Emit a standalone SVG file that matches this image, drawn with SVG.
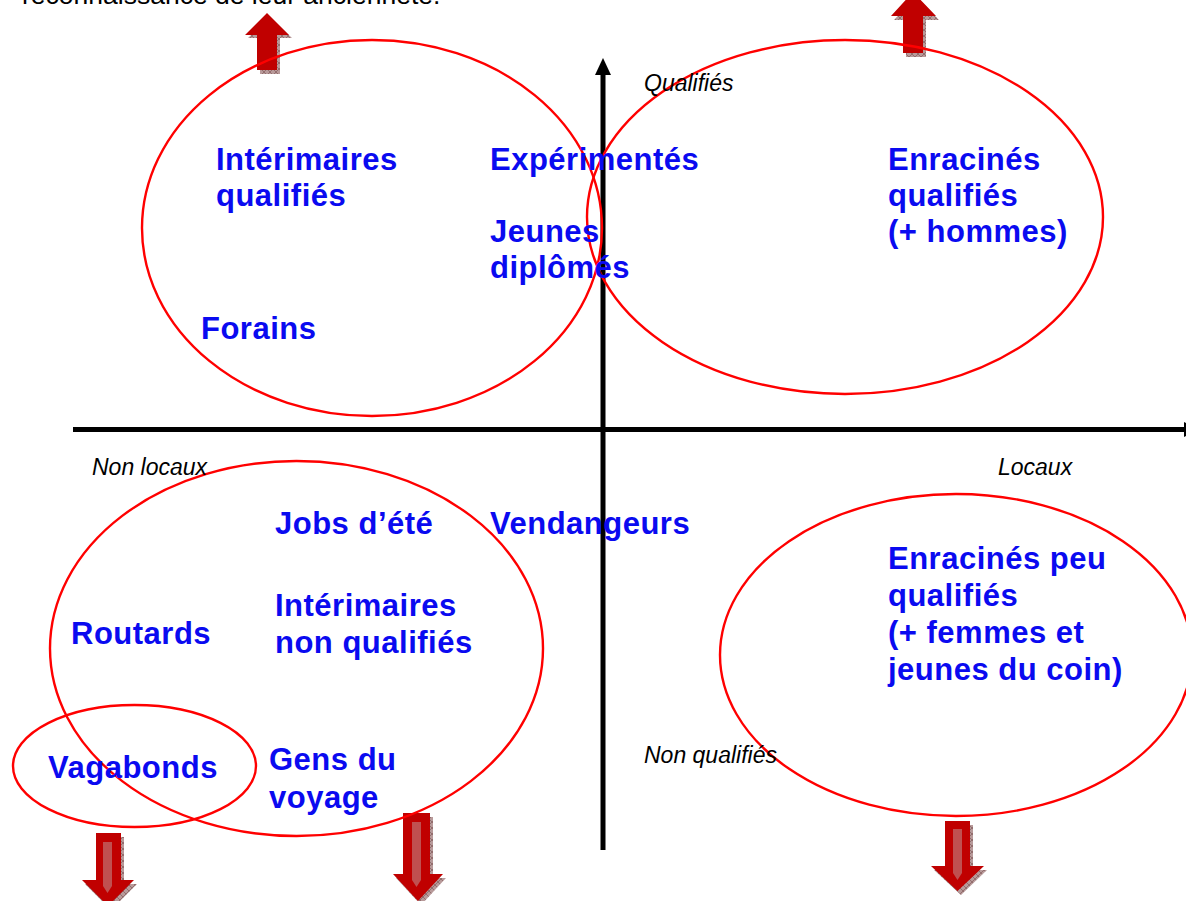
<svg xmlns="http://www.w3.org/2000/svg" width="1186" height="901" viewBox="0 0 1186 901">
<style>
.lbl{font-family:"Liberation Sans",Arial,sans-serif;font-weight:bold;font-size:31px;letter-spacing:0.5px;fill:#0a0af0}
.ax{font-family:"Liberation Sans",Arial,sans-serif;font-style:italic;font-size:23px;fill:#000}
.top{font-family:"Liberation Sans",Arial,sans-serif;font-size:26.5px;fill:#000}
.ell{fill:none;stroke:#ff0000;stroke-width:2.4}
.arr{fill:#c00000}
.sh{fill:url(#hatch)}
.stripe{fill:#c05050}
</style>
<defs>
<pattern id="hatch" width="6" height="6" patternUnits="userSpaceOnUse">
<rect width="6" height="6" fill="#b89a9a"/>
<path d="M0 6L6 0M0 0L6 6" stroke="#7a5050" stroke-width="0.6"/>
</pattern>
</defs>
<rect width="1186" height="901" fill="#fff"/>
<text class="top" x="22" y="4">reconnaissance de leur ancienneté.</text>

<g id="connectors">
<line x1="603" y1="850" x2="603" y2="74" stroke="#000" stroke-width="5"/>
<polygon points="603,58 611,75 595,75" fill="#000"/>
<line x1="73" y1="429.5" x2="1184" y2="429.5" stroke="#000" stroke-width="5"/>
<polygon points="1184,422 1200,429.5 1184,437" fill="#000"/>
</g>

<g id="arrows">
<g id="arrow-up-left">
<polygon class="sh" points="270,17 292,38 280,38 280,74 260,74 260,38 248,38"/>
<polygon class="arr" points="267,13 289,35 277,35 277,70 257,70 257,35 245,35"/>
</g>
<g id="arrow-up-right">
<polygon class="sh" points="916,-4 939,20 926,20 926,57 906,57 906,20 894,20"/>
<polygon class="arr" points="913,-8 936,16 923,16 923,53 903,53 903,16 891,16"/>
</g>
<g id="arrow-down-1">
<polygon class="sh" points="99,837 124,837 124,884 137,884 111,910 85,884 99,884"/>
<polygon class="arr" points="96,833 121,833 121,880 134,880 108,906 82,880 96,880"/>
<polygon class="stripe" points="103,842 112,842 112,886 107.5,893 103,886"/>
</g>
<g id="arrow-down-2">
<polygon class="sh" points="406,817 433,817 433,878 446,878 421,905 396,878 406,878"/>
<polygon class="arr" points="403,813 430,813 430,874 443,874 418,901 393,874 403,874"/>
<polygon class="stripe" points="412,822 421,822 421,880 416.5,887 412,880"/>
</g>
<g id="arrow-down-3">
<polygon class="sh" points="948,825 973,825 973,870 987,870 961,895 934,870 948,870"/>
<polygon class="arr" points="945,821 970,821 970,866 984,866 957.5,891 931,866 945,866"/>
<polygon class="stripe" points="953,829 962,829 962,873 957.5,880 953,873"/>
</g>
</g>

<g id="ellipses">
<ellipse id="e-top-left" class="ell" cx="372" cy="228" rx="230" ry="188"/>
<ellipse id="e-top-right" class="ell" cx="845" cy="217" rx="258" ry="177"/>
<ellipse id="e-bottom-left" class="ell" cx="296.5" cy="648.5" rx="246.5" ry="187.5"/>
<ellipse id="e-vagabonds" class="ell" cx="134.5" cy="766" rx="121.5" ry="61"/>
<ellipse id="e-bottom-right" class="ell" cx="956" cy="655" rx="236" ry="161"/>
</g>

<g id="axis-labels">
<text class="ax" x="644" y="91">Qualifiés</text>
<text class="ax" x="92" y="475">Non locaux</text>
<text class="ax" x="998" y="475">Locaux</text>
<text class="ax" x="644" y="763">Non qualifiés</text>
</g>

<g id="n-interimaires-qualifies"><text class="lbl" x="216" y="170">Intérimaires</text><text class="lbl" x="216" y="206">qualifiés</text></g>
<g id="n-experimentes"><text class="lbl" x="490" y="170">Expérimentés</text></g>
<g id="n-jeunes-diplomes"><text class="lbl" x="490" y="242">Jeunes</text><text class="lbl" x="490" y="278">diplômés</text></g>
<g id="n-enracines-qualifies"><text class="lbl" x="888" y="170">Enracinés</text><text class="lbl" x="888" y="206">qualifiés</text><text class="lbl" x="888" y="242">(+ hommes)</text></g>
<g id="n-forains"><text class="lbl" x="201" y="339">Forains</text></g>
<g id="n-jobs-ete"><text class="lbl" x="275" y="534">Jobs d’été</text></g>
<g id="n-vendangeurs"><text class="lbl" x="490" y="534">Vendangeurs</text></g>
<g id="n-routards"><text class="lbl" x="71" y="644">Routards</text></g>
<g id="n-interimaires-non-qualifies"><text class="lbl" x="275" y="616">Intérimaires</text><text class="lbl" x="275" y="653">non qualifiés</text></g>
<g id="n-enracines-peu-qualifies"><text class="lbl" x="888" y="569">Enracinés peu</text><text class="lbl" x="888" y="606">qualifiés</text><text class="lbl" x="888" y="643">(+ femmes et</text><text class="lbl" x="888" y="680">jeunes du coin)</text></g>
<g id="n-vagabonds"><text class="lbl" x="48" y="778">Vagabonds</text></g>
<g id="n-gens-du-voyage"><text class="lbl" x="269" y="770">Gens du</text><text class="lbl" x="269" y="808">voyage</text></g>
</svg>
